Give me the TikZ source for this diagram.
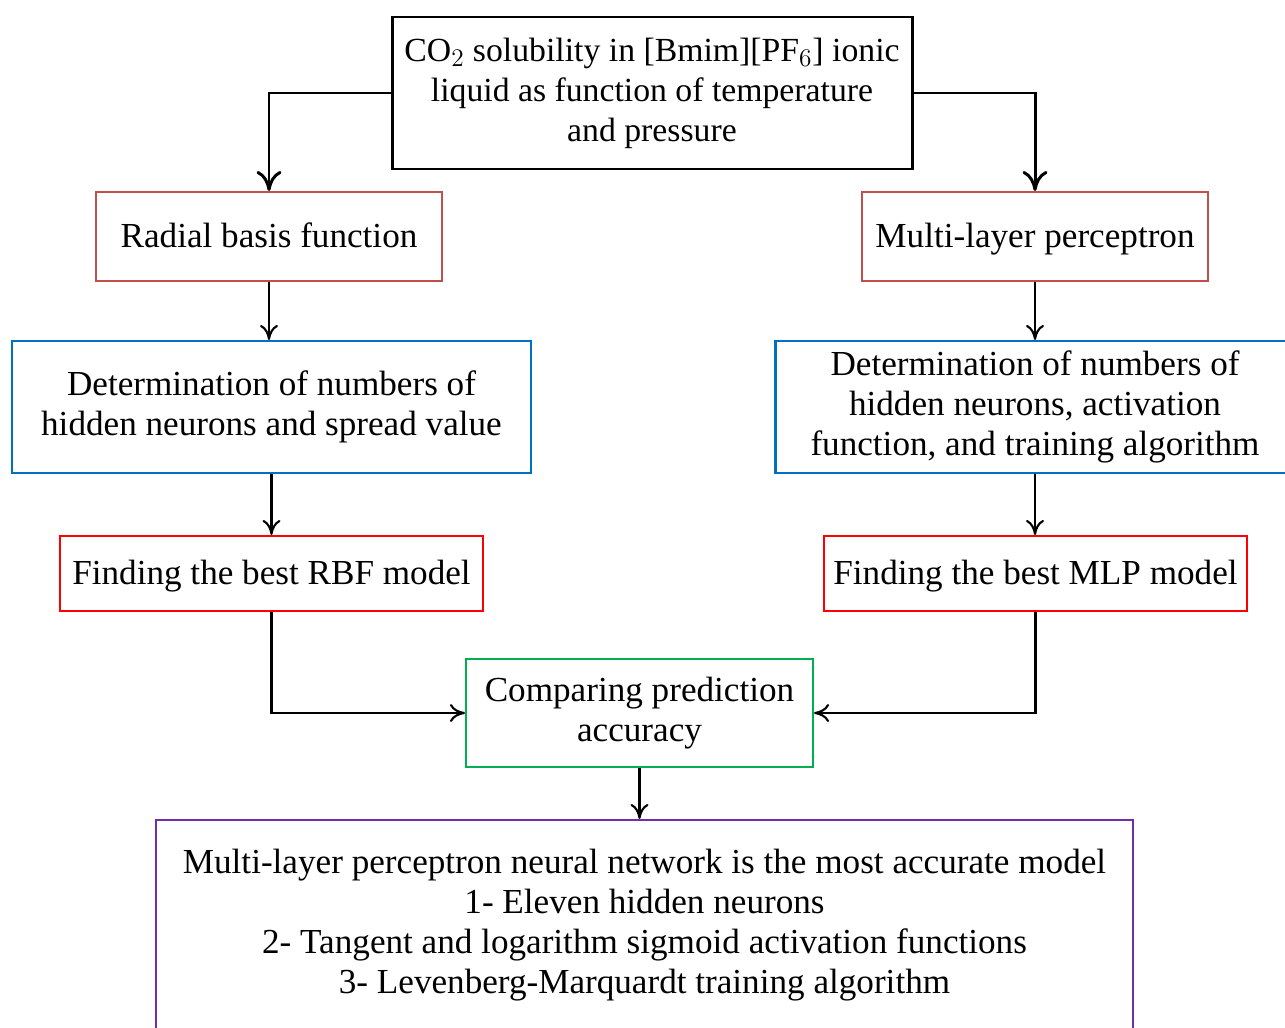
\documentclass[tikz,border=0pt]{standalone}
\usepackage{fontspec}
\setmainfont{Liberation Serif}
\usetikzlibrary{arrows.meta,shapes}

\begin{document}
\begin{tikzpicture}[
	box/.style={draw, line width=1.2pt, align=center, inner sep=0pt, font=\fontsize{20}{22.8}\selectfont},
	single/.style={box, text height=17pt, text depth=4.5pt},
	thin/.style={line width=1.2pt, -{To[length=0.3cm,width=0.36cm]}},
	thick/.style={line width=1.7pt, -{To[length=0.4cm,width=0.5cm]}}]
				\definecolor{color1}{HTML}{C0504D} %% soft red
				\definecolor{color2}{HTML}{0070C0} %% blue
				\definecolor{color3}{HTML}{FF0000} %% red
				\definecolor{color4}{HTML}{00B050} %% green
				\definecolor{color5}{HTML}{7030A0} %% purple
				\clip (0,0) rectangle (25.7,-20.56);
				%% Boxes ------
				\node[box, line width=1.7pt, font=\fontsize{19.2}{22.8}\selectfont, minimum width=10.4cm, minimum height=3.04cm] (data) at (13.04,-1.86)
					{CO$_2$ solubility in [Bmim][PF$_6$] ionic\\liquid as function of temperature\\and pressure};
				\node[single, color1, text=black, minimum width=6.92cm, minimum height=1.78cm] (rbf) at (5.38,-4.73) {Radial basis function};
				\node[single, color1, text=black, minimum width=6.92cm, minimum height=1.78cm] (mlp) at (20.70,-4.73) {Multi-layer perceptron};
				\node[box, color2, text=black, minimum width=10.38cm, minimum height=2.64cm] (rbfset) at (5.43,-8.14)
					{Determination of numbers of\\hidden neurons and spread value};
				\node[box, color2, text=black, minimum width=10.38cm, minimum height=2.64cm] (mlpset) at (20.70,-8.14)
					{Determination of numbers of\\hidden neurons, activation\\function, and training algorithm};
				\node[single, color3, text=black, minimum width=8.46cm, minimum height=1.5cm] (rbfbest) at (5.43,-11.47) {Finding the best RBF model};
				\node[single, color3, text=black, minimum width=8.46cm, minimum height=1.5cm] (mlpbest) at (20.71,-11.47) {Finding the best MLP model};
				\node[box, color4, text=black, minimum width=6.94cm, minimum height=2.16cm] (compare) at (12.79,-14.26)
					{Comparing prediction\\accuracy};
				\node[box, color5, text=black, minimum width=19.54cm, minimum height=4.2cm] (result) at (12.89,-18.5)
					{Multi-layer perceptron neural network is the most accurate model\\1- Eleven hidden neurons\\2- Tangent and logarithm sigmoid activation functions\\3- Levenberg-Marquardt training algorithm};
				%% Edges ---------
				\draw[thick] (data.west) -| (rbf.north);
				\draw[thick] (data.east) -| (mlp.north);
				\draw[thin] (rbf.south) -- (rbf.south |- rbfset.north);
				\draw[thin] (mlp.south) -- (mlp.south |- mlpset.north);
				\draw[thin] (rbfset.south) -- (rbfset.south |- rbfbest.north);
				\draw[thin] (mlpset.south) -- (mlpset.south |- mlpbest.north);
				\draw[thin] (rbfbest.south) |- (compare.west);
				\draw[thin] (mlpbest.south) |- (compare.east);
				\draw[thin] (compare.south) -- (compare.south |- result.north);
			\end{tikzpicture}
\end{document}
